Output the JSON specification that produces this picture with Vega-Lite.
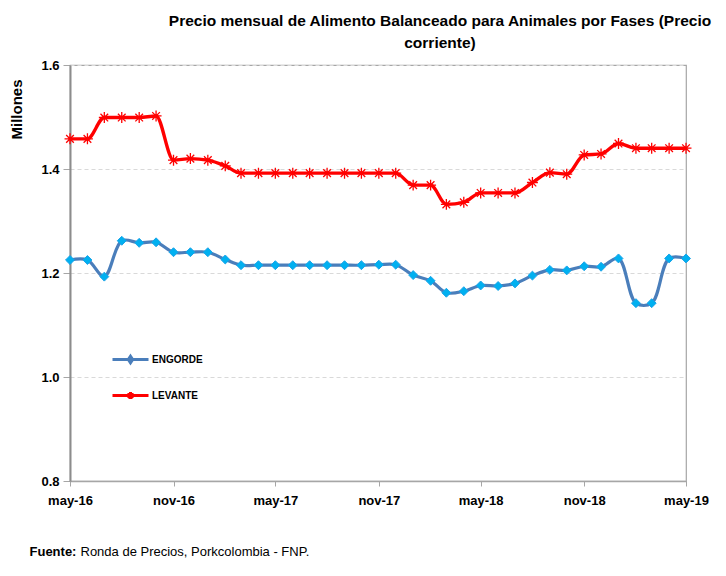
{
  "$schema": "https://vega.github.io/schema/vega-lite/v6.json",
  "width": 616,
  "height": 416,
  "autosize": {"type": "none"},
  "padding": {"left": 70, "top": 65, "right": 40, "bottom": 95},
  "background": "white",
  "title": {
    "text": ["Precio mensual de Alimento Balanceado para Animales por Fases (Precio", "corriente)"],
    "font": "Liberation Sans",
    "fontSize": 15.5,
    "fontWeight": "bold",
    "color": "#000000",
    "anchor": "middle",
    "dx": 62,
    "offset": 8,
    "lineHeight": 22
  },
  "data": {
    "values": [
      {"fecha": "2016-05-01", "serie": "ENGORDE", "valor": 1.225},
      {"fecha": "2016-06-01", "serie": "ENGORDE", "valor": 1.225},
      {"fecha": "2016-07-01", "serie": "ENGORDE", "valor": 1.193},
      {"fecha": "2016-08-01", "serie": "ENGORDE", "valor": 1.262},
      {"fecha": "2016-09-01", "serie": "ENGORDE", "valor": 1.258},
      {"fecha": "2016-10-01", "serie": "ENGORDE", "valor": 1.259},
      {"fecha": "2016-11-01", "serie": "ENGORDE", "valor": 1.240},
      {"fecha": "2016-12-01", "serie": "ENGORDE", "valor": 1.240},
      {"fecha": "2017-01-01", "serie": "ENGORDE", "valor": 1.240},
      {"fecha": "2017-02-01", "serie": "ENGORDE", "valor": 1.226},
      {"fecha": "2017-03-01", "serie": "ENGORDE", "valor": 1.215},
      {"fecha": "2017-04-01", "serie": "ENGORDE", "valor": 1.215},
      {"fecha": "2017-05-01", "serie": "ENGORDE", "valor": 1.215},
      {"fecha": "2017-06-01", "serie": "ENGORDE", "valor": 1.215},
      {"fecha": "2017-07-01", "serie": "ENGORDE", "valor": 1.215},
      {"fecha": "2017-08-01", "serie": "ENGORDE", "valor": 1.215},
      {"fecha": "2017-09-01", "serie": "ENGORDE", "valor": 1.215},
      {"fecha": "2017-10-01", "serie": "ENGORDE", "valor": 1.215},
      {"fecha": "2017-11-01", "serie": "ENGORDE", "valor": 1.216},
      {"fecha": "2017-12-01", "serie": "ENGORDE", "valor": 1.216},
      {"fecha": "2018-01-01", "serie": "ENGORDE", "valor": 1.196},
      {"fecha": "2018-02-01", "serie": "ENGORDE", "valor": 1.185},
      {"fecha": "2018-03-01", "serie": "ENGORDE", "valor": 1.162},
      {"fecha": "2018-04-01", "serie": "ENGORDE", "valor": 1.165},
      {"fecha": "2018-05-01", "serie": "ENGORDE", "valor": 1.176},
      {"fecha": "2018-06-01", "serie": "ENGORDE", "valor": 1.175},
      {"fecha": "2018-07-01", "serie": "ENGORDE", "valor": 1.180},
      {"fecha": "2018-08-01", "serie": "ENGORDE", "valor": 1.195},
      {"fecha": "2018-09-01", "serie": "ENGORDE", "valor": 1.206},
      {"fecha": "2018-10-01", "serie": "ENGORDE", "valor": 1.205},
      {"fecha": "2018-11-01", "serie": "ENGORDE", "valor": 1.213},
      {"fecha": "2018-12-01", "serie": "ENGORDE", "valor": 1.212},
      {"fecha": "2019-01-01", "serie": "ENGORDE", "valor": 1.228},
      {"fecha": "2019-02-01", "serie": "ENGORDE", "valor": 1.142},
      {"fecha": "2019-03-01", "serie": "ENGORDE", "valor": 1.142},
      {"fecha": "2019-04-01", "serie": "ENGORDE", "valor": 1.228},
      {"fecha": "2019-05-01", "serie": "ENGORDE", "valor": 1.228},
      {"fecha": "2016-05-01", "serie": "LEVANTE", "valor": 1.458},
      {"fecha": "2016-06-01", "serie": "LEVANTE", "valor": 1.458},
      {"fecha": "2016-07-01", "serie": "LEVANTE", "valor": 1.499},
      {"fecha": "2016-08-01", "serie": "LEVANTE", "valor": 1.499},
      {"fecha": "2016-09-01", "serie": "LEVANTE", "valor": 1.499},
      {"fecha": "2016-10-01", "serie": "LEVANTE", "valor": 1.502},
      {"fecha": "2016-11-01", "serie": "LEVANTE", "valor": 1.417},
      {"fecha": "2016-12-01", "serie": "LEVANTE", "valor": 1.420},
      {"fecha": "2017-01-01", "serie": "LEVANTE", "valor": 1.417},
      {"fecha": "2017-02-01", "serie": "LEVANTE", "valor": 1.406},
      {"fecha": "2017-03-01", "serie": "LEVANTE", "valor": 1.392},
      {"fecha": "2017-04-01", "serie": "LEVANTE", "valor": 1.392},
      {"fecha": "2017-05-01", "serie": "LEVANTE", "valor": 1.392},
      {"fecha": "2017-06-01", "serie": "LEVANTE", "valor": 1.392},
      {"fecha": "2017-07-01", "serie": "LEVANTE", "valor": 1.392},
      {"fecha": "2017-08-01", "serie": "LEVANTE", "valor": 1.392},
      {"fecha": "2017-09-01", "serie": "LEVANTE", "valor": 1.392},
      {"fecha": "2017-10-01", "serie": "LEVANTE", "valor": 1.392},
      {"fecha": "2017-11-01", "serie": "LEVANTE", "valor": 1.392},
      {"fecha": "2017-12-01", "serie": "LEVANTE", "valor": 1.392},
      {"fecha": "2018-01-01", "serie": "LEVANTE", "valor": 1.369},
      {"fecha": "2018-02-01", "serie": "LEVANTE", "valor": 1.369},
      {"fecha": "2018-03-01", "serie": "LEVANTE", "valor": 1.332},
      {"fecha": "2018-04-01", "serie": "LEVANTE", "valor": 1.336},
      {"fecha": "2018-05-01", "serie": "LEVANTE", "valor": 1.354},
      {"fecha": "2018-06-01", "serie": "LEVANTE", "valor": 1.354},
      {"fecha": "2018-07-01", "serie": "LEVANTE", "valor": 1.354},
      {"fecha": "2018-08-01", "serie": "LEVANTE", "valor": 1.374},
      {"fecha": "2018-09-01", "serie": "LEVANTE", "valor": 1.393},
      {"fecha": "2018-10-01", "serie": "LEVANTE", "valor": 1.390},
      {"fecha": "2018-11-01", "serie": "LEVANTE", "valor": 1.427},
      {"fecha": "2018-12-01", "serie": "LEVANTE", "valor": 1.429},
      {"fecha": "2019-01-01", "serie": "LEVANTE", "valor": 1.449},
      {"fecha": "2019-02-01", "serie": "LEVANTE", "valor": 1.440},
      {"fecha": "2019-03-01", "serie": "LEVANTE", "valor": 1.440},
      {"fecha": "2019-04-01", "serie": "LEVANTE", "valor": 1.440},
      {"fecha": "2019-05-01", "serie": "LEVANTE", "valor": 1.440}
    ]
  },
  "encoding": {
    "y": {
      "field": "valor",
      "type": "quantitative",
      "scale": {"domain": [0.8, 1.6], "nice": false, "zero": false},
      "axis": {
        "values": [0.8, 1.0, 1.2, 1.4, 1.6],
        "format": ".1f",
        "grid": true,
        "gridColor": "#D9D9D9",
        "gridDash": [4, 3],
        "gridWidth": 1,
        "title": "Millones",
        "titleFont": "Liberation Sans",
        "titleFontSize": 15,
        "titleFontWeight": "bold",
        "titleColor": "#000000",
        "titleAngle": -90,
        "titleX": -54,
        "titleY": 44,
        "titleAlign": "center",
        "titleBaseline": "middle",
        "labelFont": "Liberation Sans",
        "labelFontSize": 13,
        "labelFontWeight": "bold",
        "labelColor": "#000000",
        "labelPadding": 4,
        "tickSize": 7,
        "tickColor": "#A6A6A6",
        "domainColor": "#8C8C8C",
        "domainWidth": 2
      }
    }
  },
  "layer": [
    {
      "transform": [{"filter": "datum.serie === 'ENGORDE'"}],
      "mark": {"type": "line", "interpolate": "catmull-rom", "strokeWidth": 3.2},
      "encoding": {
        "x": {
          "field": "fecha",
          "type": "temporal",
          "scale": {"type": "utc", "domain": [{"year": 2016, "month": 5, "date": 1, "utc": true}, {"year": 2019, "month": 5, "date": 1, "utc": true}], "nice": false},
          "axis": {
            "orient": "bottom",
            "values": [
              {"year": 2016, "month": 5, "date": 1, "utc": true},
              {"year": 2016, "month": 11, "date": 1, "utc": true},
              {"year": 2017, "month": 5, "date": 1, "utc": true},
              {"year": 2017, "month": 11, "date": 1, "utc": true},
              {"year": 2018, "month": 5, "date": 1, "utc": true},
              {"year": 2018, "month": 11, "date": 1, "utc": true},
              {"year": 2019, "month": 5, "date": 1, "utc": true}
            ],
            "labelExpr": "lower(utcFormat(datum.value, '%b-%y'))",
            "labelOverlap": false,
            "labelBound": false,
            "labelFlush": false,
            "grid": false,
            "title": "Fuente:",
            "titleFont": "Liberation Sans",
            "titleFontSize": 13,
            "titleFontWeight": "bold",
            "titleColor": "#000000",
            "titleAnchor": "start",
            "titleAlign": "left",
            "titleX": -41,
            "titleY": 70,
            "titleBaseline": "middle",
            "labelFont": "Liberation Sans",
            "labelFontSize": 13,
            "labelFontWeight": "bold",
            "labelColor": "#000000",
            "labelPadding": 8,
            "tickSize": 5,
            "tickColor": "#A6A6A6",
            "domainColor": "#A6A6A6",
            "domainWidth": 1.5
          }
        },
        "color": {
          "field": "serie",
          "type": "nominal",
          "scale": {"domain": ["ENGORDE", "LEVANTE"], "range": ["#4A7EBB", "#FF0000"]},
          "legend": {
            "orient": "none",
            "legendX": 41,
            "legendY": 275,
            "title": null,
            "padding": 0,
            "symbolSize": 1296,
            "symbolStrokeWidth": 3,
            "rowPadding": 7,
            "labelOffset": 2,
            "labelFont": "Liberation Sans",
            "labelFontSize": 10,
            "labelFontWeight": "bold",
            "labelColor": "#000000",
            "encode": {
              "symbols": {
                "update": {
                  "shape": {"signal": "datum.value === 'ENGORDE' ? 'M-1,0L1,0M0,-0.18L0.12,0L0,0.18L-0.12,0Z' : 'M-1,0L1,0M-0.2,0L0.2,0M0,-0.2L0,0.2M-0.14,-0.14L0.14,0.14M-0.14,0.14L0.14,-0.14'"},
                  "fill": {"signal": "datum.value === 'ENGORDE' ? '#00B0F0' : 'transparent'"}
                }
              }
            }
          }
        }
      }
    },
    {
      "transform": [{"filter": "datum.serie === 'LEVANTE'"}],
      "mark": {"type": "line", "interpolate": "monotone", "strokeWidth": 3.4},
      "encoding": {
        "x": {"field": "fecha", "type": "temporal", "axis": null},
        "color": {"field": "serie", "type": "nominal"}
      }
    },
    {
      "transform": [{"filter": "datum.serie === 'ENGORDE'"}],
      "mark": {"type": "point", "shape": "diamond", "filled": true, "fill": "#00B0F0", "stroke": "#1AA3E8", "strokeWidth": 1, "size": 80, "opacity": 1},
      "encoding": {
        "x": {
          "field": "fecha",
          "type": "temporal",
          "axis": {
            "orient": "bottom",
            "labels": false,
            "ticks": false,
            "domain": false,
            "grid": false,
            "title": "Ronda de Precios, Porkcolombia  - FNP.",
            "titleFont": "Liberation Sans",
            "titleFontSize": 13,
            "titleFontWeight": "normal",
            "titleColor": "#000000",
            "titleAnchor": "start",
            "titleAlign": "left",
            "titleX": 10,
            "titleY": 70,
            "titleBaseline": "middle"
          }
        }
      }
    },
    {
      "transform": [{"filter": "datum.serie === 'LEVANTE'"}],
      "mark": {"type": "point", "shape": "M-1,0L1,0M0,-1L0,1M-0.7,-0.7L0.7,0.7M-0.7,0.7L0.7,-0.7", "filled": false, "stroke": "#FF0000", "strokeWidth": 1.3, "size": 120, "opacity": 1},
      "encoding": {
        "x": {"field": "fecha", "type": "temporal", "axis": null}
      }
    }
  ],
  "resolve": {"axis": {"x": "independent"}},
  "config": {
    "view": {"stroke": "#A6A6A6", "strokeWidth": 1.2}
  }
}
